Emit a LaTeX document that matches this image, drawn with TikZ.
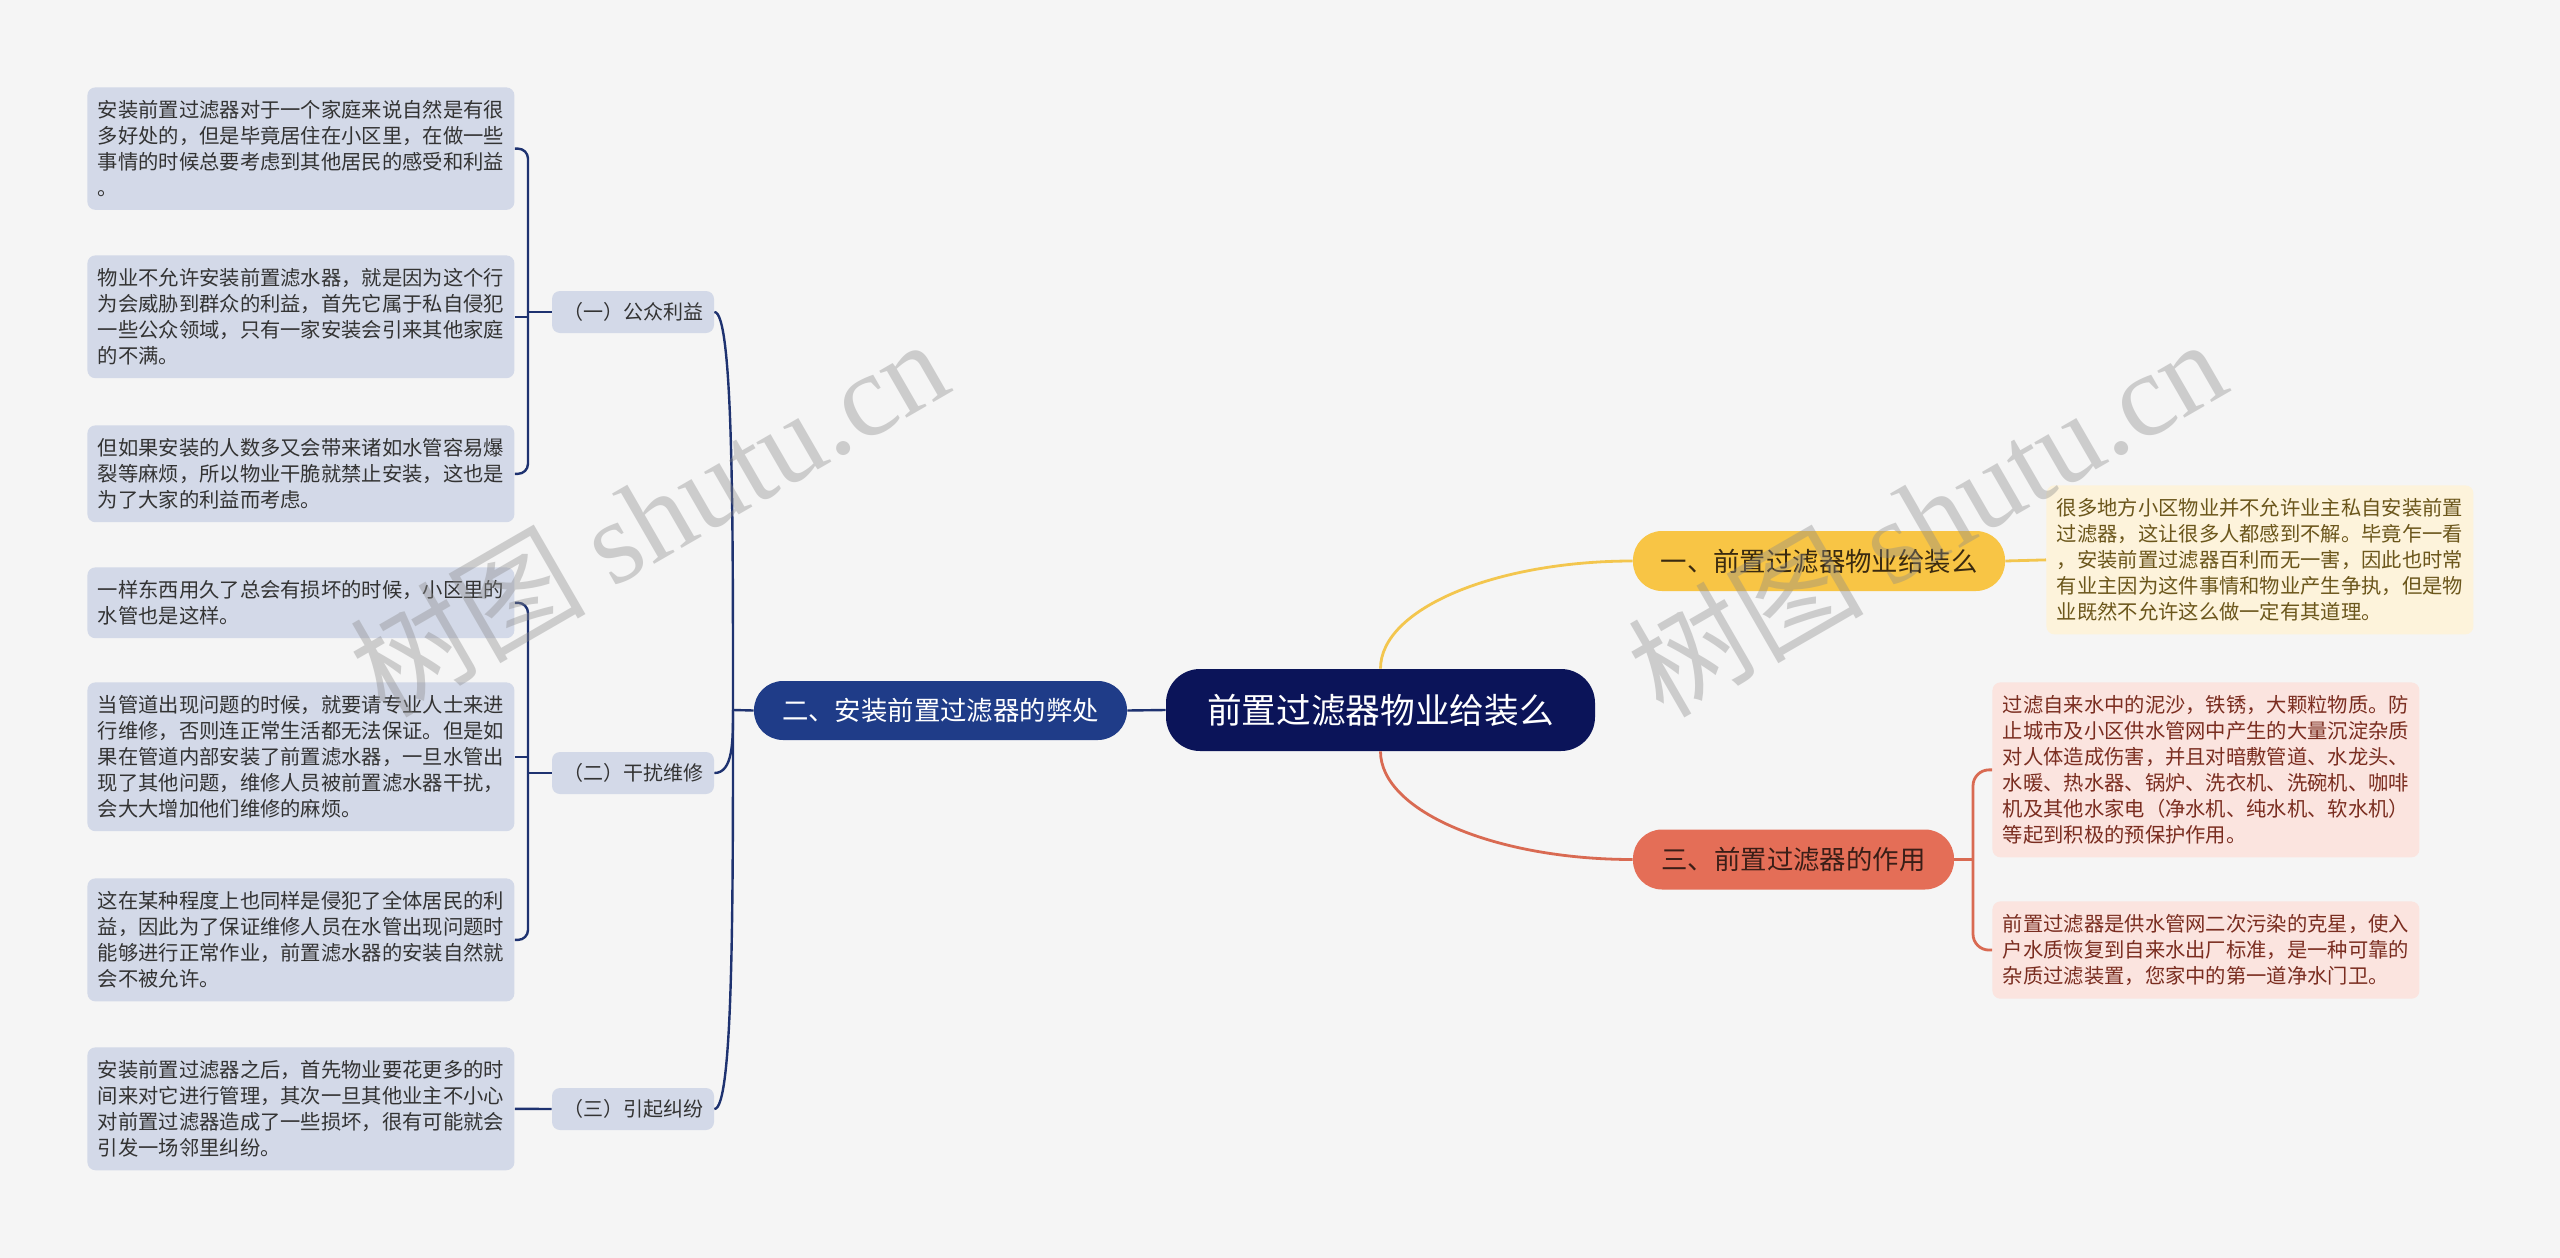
\documentclass[tikz,border=0pt]{standalone}
\usepackage{fontspec}
\setmainfont{Noto Sans CJK SC}
\newfontfamily\wmlatin{Liberation Serif}
\usetikzlibrary{calc}
\definecolor{bgc}{HTML}{F5F5F5}
\definecolor{rootc}{HTML}{0B1459}
\definecolor{navyc}{HTML}{1F3C88}
\definecolor{navyl}{HTML}{1E3270}
\definecolor{lavc}{HTML}{D3D9E8}
\definecolor{darkt}{HTML}{333333}
\definecolor{yelc}{HTML}{F8C545}
\definecolor{yell}{HTML}{F3C64E}
\definecolor{creamc}{HTML}{FDF3DB}
\definecolor{olivet}{HTML}{6B561B}
\definecolor{salc}{HTML}{E46E57}
\definecolor{sall}{HTML}{D96A52}
\definecolor{pinkc}{HTML}{FBE4DF}
\definecolor{redt}{HTML}{7A2D20}
\definecolor{brt}{HTML}{3A2A10}
\definecolor{b3t}{HTML}{3A1E17}
\definecolor{wmc}{HTML}{8A8A8A}
\tikzset{
  leafbase/.style={rounded corners=4pt, inner xsep=5.25pt, inner ysep=6.5pt,
    text width=203pt, align=left, font=\fontsize{10.15}{13}\selectfont, anchor=north west},
  leafL/.style={leafbase, fill=lavc, text=darkt},
  leafY/.style={leafbase, fill=creamc, text=olivet},
  leafR/.style={leafbase, fill=pinkc, text=redt},
  subn/.style={fill=lavc, text=darkt, rounded corners=4pt, minimum width=81pt,
    minimum height=21pt, inner sep=0pt, font=\fontsize{10}{12}\selectfont},
  brn/.style={rounded corners=14.5pt, minimum height=30pt, inner sep=0pt,
    font=\fontsize{13.2}{16}\selectfont},
  rootn/.style={fill=rootc, text=white, rounded corners=17pt, minimum width=214.5pt,
    minimum height=41pt, inner sep=0pt, font=\fontsize{17.35}{20}\selectfont},
  conN/.style={draw=navyl, line width=1.2pt},
  conY/.style={draw=yell, line width=1.4pt},
  conS/.style={draw=sall, line width=1.4pt},
  wm/.style={text=wmc, text opacity=0.38, font=\fontsize{59}{62}\selectfont, inner sep=0pt}
}
\begin{document}
\begin{tikzpicture}[x=0.5pt,y=-0.5pt]
\fill[bgc] (0,0) rectangle (2560,1258);
\useasboundingbox (0,0) rectangle (2560,1258);

% central and main branches
\node[rootn] (root) at (1380.5,710) {前置过滤器物业给装么};
\node[brn, fill=navyc, text=white, minimum width=186.5pt, minimum height=29.5pt] (b2) at (940.5,710.5) {二、安装前置过滤器的弊处};
\node[brn, fill=yelc, text=brt, minimum width=186pt] (b1) at (1819,561) {一、前置过滤器物业给装么};
\node[brn, fill=salc, text=b3t, minimum width=160.5pt] (b3) at (1793.5,859.5) {三、前置过滤器的作用};

% sub nodes
\node[subn] (s1) at (633,312) {（一）公众利益};
\node[subn] (s2) at (633,773) {（二）干扰维修};
\node[subn] (s3) at (633,1109) {（三）引起纠纷};

% left leaves
\node[leafL] (L1) at (87,87) {安装前置过滤器对于一个家庭来说自然是有很\\多好处的，但是毕竟居住在小区里，在做一些\\事情的时候总要考虑到其他居民的感受和利益\\。};
\node[leafL] (L2) at (87,255) {物业不允许安装前置滤水器，就是因为这个行\\为会威胁到群众的利益，首先它属于私自侵犯\\一些公众领域，只有一家安装会引来其他家庭\\的不满。};
\node[leafL] (L3) at (87,425) {但如果安装的人数多又会带来诸如水管容易爆\\裂等麻烦，所以物业干脆就禁止安装，这也是\\为了大家的利益而考虑。};
\node[leafL] (L4) at (87,567) {一样东西用久了总会有损坏的时候，小区里的\\水管也是这样。};
\node[leafL] (L5) at (87,682) {当管道出现问题的时候，就要请专业人士来进\\行维修，否则连正常生活都无法保证。但是如\\果在管道内部安装了前置滤水器，一旦水管出\\现了其他问题，维修人员被前置滤水器干扰，\\会大大增加他们维修的麻烦。};
\node[leafL] (L6) at (87,878) {这在某种程度上也同样是侵犯了全体居民的利\\益，因此为了保证维修人员在水管出现问题时\\能够进行正常作业，前置滤水器的安装自然就\\会不被允许。};
\node[leafL] (L7) at (87,1047) {安装前置过滤器之后，首先物业要花更多的时\\间来对它进行管理，其次一旦其他业主不小心\\对前置过滤器造成了一些损坏，很有可能就会\\引发一场邻里纠纷。};

% right leaves
\node[leafY] (r1) at (2046,485) {很多地方小区物业并不允许业主私自安装前置\\过滤器，这让很多人都感到不解。毕竟乍一看\\，安装前置过滤器百利而无一害，因此也时常\\有业主因为这件事情和物业产生争执，但是物\\业既然不允许这么做一定有其道理。};
\node[leafR] (r3a) at (1992,682) {过滤自来水中的泥沙，铁锈，大颗粒物质。防\\止城市及小区供水管网中产生的大量沉淀杂质\\对人体造成伤害，并且对暗敷管道、水龙头、\\水暖、热水器、锅炉、洗衣机、洗碗机、咖啡\\机及其他水家电（净水机、纯水机、软水机）\\等起到积极的预保护作用。};
\node[leafR] (r3b) at (1992,901) {前置过滤器是供水管网二次污染的克星，使入\\户水质恢复到自来水出厂标准，是一种可靠的\\杂质过滤装置，您家中的第一道净水门卫。};

% connectors: root to branches
\draw[conY] (root.north) .. controls +(0,-60) and +(-137,0) .. (b1.west);
\draw[conS] (root.south) .. controls +(0,60) and +(-137,0) .. (b3.west);
\draw[conN] (root.west) -- (b2.east);

% branch 2 to sub nodes
\coordinate (J2) at (733,710);
\draw[conN] (b2.west) -- (J2);
\foreach \s in {s1,s2,s3}{
  \draw[conN] (J2) .. controls ($(J2)!0.5!(J2 |- \s.east)$) and (J2 |- \s.east) .. (\s.east);
}

% sub nodes to left leaves
\coordinate (Lx) at (528,0);
\draw[conN] (s1.west) -- (s1.west -| Lx);
\draw[conN, rounded corners=5pt] (L1.east) -| (L3.east -| Lx) -- (L3.east);
\draw[conN] (L2.east) -- (L2.east -| Lx);
\draw[conN] (s2.west) -- (s2.west -| Lx);
\draw[conN, rounded corners=5pt] (L4.east) -| (L6.east -| Lx) -- (L6.east);
\draw[conN] (L5.east) -- (L5.east -| Lx);
\draw[conN] (s3.west) -- (L7.east);

% right side
\draw[conY] (b1.east) -- (r1.west);
\coordinate (Rx) at (1973,0);
\draw[conS] (b3.east) -- (b3.east -| Rx);
\draw[conS, rounded corners=8pt] (r3a.west) -| (r3b.west -| Rx) -- (r3b.west);

% watermarks
\node[wm, rotate=30] (wm1) at (648,516) {树图 {\wmlatin shutu.cn}};
\node[wm, rotate=30] (wm2) at (1926,516) {树图 {\wmlatin shutu.cn}};
\end{tikzpicture}
\end{document}
